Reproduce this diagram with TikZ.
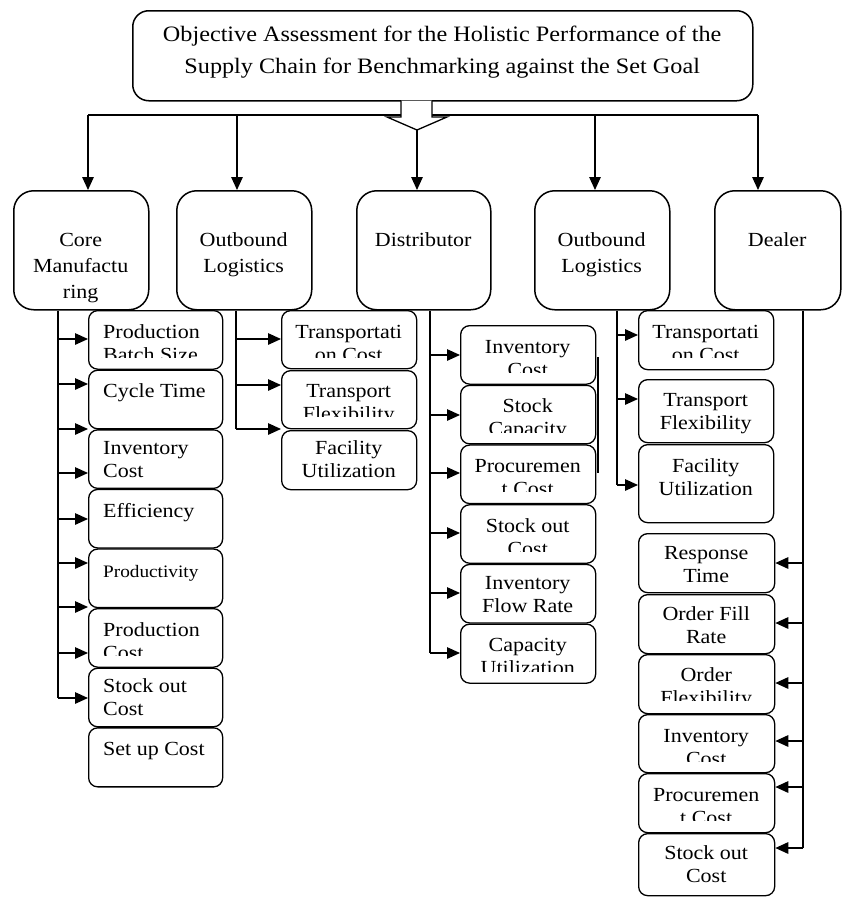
\documentclass[tikz,border=0pt]{standalone}
\usepackage{fontspec}
\setmainfont{Liberation Serif}[FakeStretch=1.1]
\usetikzlibrary{arrows.meta}
\tikzset{
  topbox/.style={draw, line width=1.5pt, rounded corners=16pt, inner sep=0pt, anchor=north west},
  lonebox/.style={draw, line width=1.5pt, rounded corners=20pt, inner sep=0pt, anchor=north west},
  cbox/.style={draw, line width=1.3pt, rounded corners=9pt, inner sep=0pt, anchor=north west},
  ctext/.style={inner sep=0pt, anchor=base west, font=\fontsize{20}{23}\selectfont},
  conn/.style={line width=1.4pt},
  arr/.style={conn, -{Triangle[length=13pt,width=11.5pt]}}
}
% visible text: name x y w h baseline-offset alignment text
\newcommand\cbx[8]{%
  \node[cbox, minimum width=#4pt, minimum height=#5pt] (#1) at (#2,#3) {};
  \begin{scope}
    \clip (#2,#3) rectangle ({#2+#4},{#3+#5-6});
    \node[ctext] (#1t) at (#2,{#3+#6}) {\parbox[t]{#4pt}{#7 #8}};
  \end{scope}}
% text cut at the box bottom
\newcommand\cbc[8]{%
  \node[cbox, minimum width=#4pt, minimum height=#5pt] (#1) at (#2,#3) {};
  \begin{scope}
    \clip (#2,#3) rectangle ({#2+#4},{#3+#6+19.5});
    \node[ctext] (#1t) at (#2,{#3+#6}) {\parbox[t]{#4pt}{#7 #8}};
  \end{scope}}
\newcommand\lonx[6]{% name x y w h text
  \node[lonebox, minimum width=#4pt, minimum height=#5pt] (#1) at (#2,#3) {};
  \node[inner sep=0pt, anchor=base west, font=\fontsize{20}{26}\selectfont] (#1t) at (#2,{#3+56}) {\parbox[t]{#4pt}{\centering #6}};}
\def\LA{\raggedright\leftskip=15pt\relax}
\def\CA{\centering}
\begin{document}
\begin{tikzpicture}[x=1pt,y=-1pt]
\useasboundingbox (0,0) rectangle (841,897);

% top box
\node[topbox, minimum width=620pt, minimum height=90pt] (top) at (132,10) {};
\node[inner sep=0pt, anchor=base west, font=\fontsize{22}{31.5}\selectfont] (topt) at (132,41.5)
  {\parbox[t]{620pt}{\centering Objective Assessment for the Holistic Performance of the\\Supply Chain for Benchmarking against the Set Goal}};

% level one
\lonx{core}{13}{190}{135}{119}{Core\\Manufactu\\ring}
\lonx{obl}{176}{190}{135}{119}{Outbound\\Logistics}
\lonx{dist}{356}{190}{134}{119}{Distributor}
\lonx{obr}{534}{190}{135}{119}{Outbound\\Logistics}
\lonx{deal}{714}{190}{126}{119}{Dealer}

% bus and arrows
\coordinate (b1) at (88,115);
\coordinate (b2) at (237,115);
\coordinate (b3) at (417,115);
\coordinate (b4) at (595,115);
\coordinate (b5) at (758,115);
\draw[conn] (b1) -- (b5);
\draw[arr] (b1) -- (b1 |- core.north);
\draw[arr] (b2) -- (b2 |- obl.north);
\draw[arr] (b3) -- (b3 |- dist.north);
\draw[arr] (b4) -- (b4 |- obr.north);
\draw[arr] (b5) -- (b5 |- deal.north);
% hollow arrow
\draw[line width=1.3pt, fill=white, line join=miter] (401,100.5) -- (401,117) -- (387,117) -- (417,130) -- (447,117) -- (432,117) -- (432,100.5);

% core manufacturing children
\cbc{c1}{88}{310}{134}{58.5}{28}{\LA}{Production\\Batch Size}
\cbx{c2}{88}{369.6}{134}{58.5}{28}{\LA}{Cycle Time}
\cbx{c3}{88}{429.2}{134}{58.5}{25}{\LA}{Inventory\\Cost}
\cbx{c4}{88}{488.8}{134}{58.5}{29}{\LA}{Efficiency}
\cbx{c5}{88}{548.4}{134}{58.5}{29}{\LA}{{\fontsize{17.5}{23}\selectfont Productivity}}
\cbc{c6}{88}{608}{134}{58.5}{28}{\LA}{Production\\Cost}
\cbx{c7}{88}{667.6}{134}{58.5}{25}{\LA}{Stock out\\Cost}
\cbx{c8}{88}{727.2}{134}{59}{28}{\LA}{Set up Cost}
\coordinate (ctop) at (58,0 |- core.south);
\coordinate (cbot) at (58,698);
\draw[conn] (ctop) -- (cbot);
\foreach \yy in {339,384,429,473,519,563,607,653,698}
  \draw[arr] (58,\yy) -- (c1.west |- 58,\yy);

% outbound logistics (left) children
\cbc{ol1}{281}{310}{135}{58}{28}{\CA}{Transportati\\on Cost}
\cbc{ol2}{281}{370}{135}{58}{27}{\CA}{Transport\\Flexibility}
\cbx{ol3}{281}{430}{135}{59}{24}{\CA}{Facility\\Utilization}
\coordinate (oltop) at (236,0 |- obl.south);
\coordinate (olbot) at (236,429);
\draw[conn] (oltop) -- (olbot);
\foreach \yy in {339,385,429}
  \draw[arr] (236,\yy) -- (ol1.west |- 236,\yy);

% distributor children
\cbc{d1}{460}{325}{135}{58.5}{28}{\CA}{Inventory\\Cost}
\cbc{d2}{460}{384.7}{135}{58.5}{28}{\CA}{Stock\\Capacity}
\cbc{d3}{460}{444.4}{135}{58.5}{28}{\CA}{Procuremen\\t Cost}
\cbc{d4}{460}{504.1}{135}{58.5}{28}{\CA}{Stock out\\Cost}
\cbx{d5}{460}{563.8}{135}{58.5}{26}{\CA}{Inventory\\Flow Rate}
\cbc{d6}{460}{623.5}{135}{59}{28}{\CA}{Capacity\\Utilization}
\coordinate (dtop) at (430,0 |- dist.south);
\coordinate (dbot) at (430,653);
\draw[conn] (dtop) -- (dbot);
\foreach \yy in {355,415,473,533,593,653}
  \draw[arr] (430,\yy) -- (d1.west |- 430,\yy);
\draw[line width=2pt] (597.5,357) -- (597.5,473);

% outbound logistics (right) children
\cbc{or1}{638}{310}{135}{59}{28}{\CA}{Transportati\\on Cost}
\cbx{or2}{638}{379}{135}{63}{27}{\CA}{Transport\\Flexibility}
\cbx{or3}{638}{444}{135}{78}{28}{\CA}{Facility\\Utilization}
\coordinate (ortop) at (617,0 |- obr.south);
\coordinate (orbot) at (617,485);
\draw[conn] (ortop) -- (orbot);
\foreach \yy in {335,399,485}
  \draw[arr] (617,\yy) -- (or1.west |- 617,\yy);

% dealer children
\cbx{e1}{638}{533}{136}{59}{26}{\CA}{Response\\Time}
\cbx{e2}{638}{594}{136}{59}{26}{\CA}{Order Fill\\Rate}
\cbc{e3}{638}{654}{136}{59}{27}{\CA}{Order\\Flexibility}
\cbc{e4}{638}{714}{136}{58}{28}{\CA}{Inventory\\Cost}
\cbc{e5}{638}{773}{136}{59}{28}{\CA}{Procuremen\\t Cost}
\cbx{e6}{638}{833}{136}{62}{26}{\CA}{Stock out\\Cost}
\coordinate (etop) at (803,0 |- deal.south);
\coordinate (ebot) at (803,848);
\draw[conn] (etop) -- (ebot);
\foreach \yy in {563,623,683,741,787,848}
  \draw[arr] (803,\yy) -- (e1.east |- 803,\yy);
\end{tikzpicture}
\end{document}
